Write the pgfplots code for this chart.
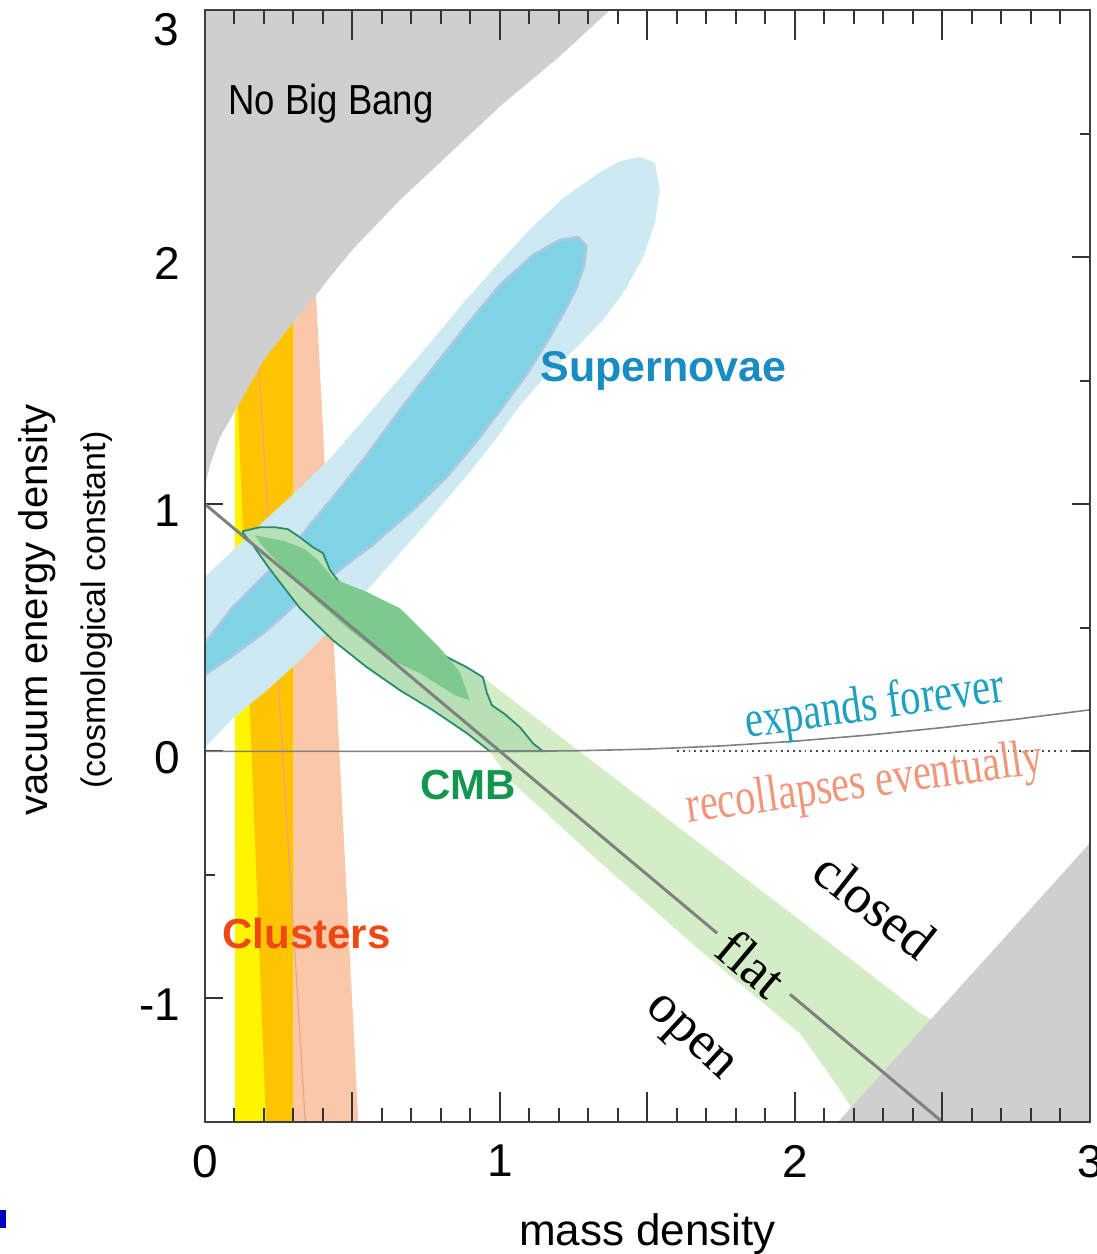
\documentclass[border=0pt]{standalone}
\usepackage{pgfplots}
\pgfplotsset{compat=1.18}
\usepackage{fontspec}
\setmainfont{Liberation Sans}
\newfontfamily\tms{Liberation Serif}
\definecolor{nbb}{RGB}{207,207,207}
\definecolor{snout}{RGB}{205,234,243}
\definecolor{snin}{RGB}{128,210,229}
\definecolor{snedge}{RGB}{168,200,228}
\definecolor{cyel}{RGB}{255,245,0}
\definecolor{corg}{RGB}{255,196,0}
\definecolor{csal}{RGB}{250,200,168}
\definecolor{csalline}{RGB}{238,165,135}
\definecolor{gband}{RGB}{213,237,198}
\definecolor{gmid}{RGB}{183,224,183}
\definecolor{gin}{RGB}{126,201,141}
\definecolor{gedge}{RGB}{40,140,110}
\definecolor{tsn}{RGB}{25,140,195}
\definecolor{tcmb}{RGB}{20,150,80}
\definecolor{tcl}{RGB}{240,72,20}
\definecolor{texp}{RGB}{30,160,190}
\definecolor{trec}{RGB}{240,150,122}
\definecolor{lgray}{RGB}{128,128,128}
\begin{document}
\begin{tikzpicture}
\begin{axis}[name=ax, scale only axis, width=442.5pt, height=556pt,
  xmin=0, xmax=3, ymin=-1.5, ymax=3,
  axis line style={black!75, line width=1.1pt},
  tick align=inside,
  xtick=\empty,
  ytick={-1,0,1,2,3}, yticklabels={-1,0,1,2,},
  minor ytick={-0.5,0.5,1.5,2.5},
  major tick length=9pt, minor tick length=5pt,
  tick style={black!80, line width=1pt},
  yticklabel style={font=\fontsize{23}{25}\selectfont, xshift=-9pt, yshift=-3pt},
  clip=true]
% clusters
\addplot[fill=cyel, draw=none] coordinates {(0.10,-1.6) (0.24,-1.6) (0.24,2.1) (0.10,2.1)} -- cycle;
\addplot[fill=corg, draw=none] coordinates {(0.21,-1.6) (0.30,-1.6) (0.30,2.1) (0.105,2.1) (0.112,1.4)} -- cycle;
\addplot[fill=csal, draw=none] coordinates {(0.30,-1.6) (0.524,-1.6) (0.37,2.0) (0.30,2.0)} -- cycle;
\addplot[csalline, line width=0.6pt] coordinates {(0.18,1.6) (0.34,-1.5)};
% no big bang
\addplot[fill=nbb, draw=none] coordinates {(0,3.05) (0,1.05) (0.007,1.11) (0.02,1.17) (0.05,1.27) (0.108,1.39) (0.197,1.58) (0.288,1.72) (0.366,1.83) (0.424,1.92) (0.50,2.03) (0.66,2.23) (0.875,2.47) (1.0,2.61) (1.2,2.81) (1.373,3.0) (1.42,3.05)} -- cycle;
% supernovae outer
\addplot[fill=snout, draw=none] coordinates {
(-0.051,0.652) (0.007,0.713) (0.095,0.814) (0.210,0.943) (0.322,1.065) (0.434,1.198) (0.536,1.340) (0.651,1.498) (0.763,1.652) (0.875,1.814) (0.990,1.968) (1.102,2.113) (1.214,2.239) (1.329,2.336) (1.407,2.389) (1.475,2.405) (1.525,2.381)
(1.542,2.271) (1.525,2.138) (1.485,2.0) (1.424,1.866) (1.349,1.745) (1.261,1.636) (1.163,1.530) (1.068,1.401) (0.983,1.259) (0.888,1.117) (0.773,0.955) (0.661,0.802) (0.549,0.652) (0.434,0.502) (0.322,0.368) (0.210,0.247) (0.095,0.134) (0.007,0.024) (-0.051,-0.024)} -- cycle;
% supernovae inner
\addplot[fill=snin, draw=snedge, line width=1.4pt] coordinates {
(-0.034,0.401) (0.007,0.449) (0.095,0.583) (0.210,0.721) (0.322,0.866) (0.434,1.028) (0.549,1.198) (0.661,1.381) (0.773,1.551) (0.888,1.725) (1.0,1.887) (1.112,2.008) (1.203,2.069) (1.264,2.081) (1.292,2.045)
(1.285,1.968) (1.258,1.874) (1.215,1.773) (1.162,1.664) (1.095,1.534) (1.013,1.401) (0.918,1.251) (0.815,1.105) (0.692,0.964) (0.566,0.834) (0.445,0.725) (0.322,0.611) (0.210,0.490) (0.095,0.389) (0.007,0.316) (-0.034,0.287)} -- cycle;
% CMB band
\addplot[fill=gband, draw=none] coordinates {
(0.13,0.89) (0.942,0.300) (1.4,-0.119) (1.8,-0.485) (2.2,-0.851) (2.42,-1.055) (2.55,-1.15) (2.32,-1.47) (2.19,-1.44) (2.153,-1.372) (2.10,-1.28) (2.017,-1.142) (1.678,-0.806) (1.339,-0.449) (1.034,-0.117) (0.966,0.0) (0.831,0.146) (0.13,0.87)} -- cycle;
% CMB contour
\addplot[fill=gmid, draw=gedge, line width=0.9pt] coordinates {
(0.129,0.891) (0.186,0.907) (0.237,0.907) (0.281,0.899) (0.322,0.866) (0.366,0.826) (0.400,0.802) (0.424,0.733) (0.458,0.680) (0.549,0.640) (0.610,0.599) (0.644,0.571) (0.685,0.502) (0.753,0.437) (0.820,0.381) (0.888,0.340) (0.942,0.300) (0.956,0.235) (0.973,0.186) (1.017,0.150) (1.068,0.097) (1.112,0.032) (1.146,0.0)
(0.966,0.0) (0.888,0.073) (0.773,0.166) (0.661,0.247) (0.549,0.340) (0.434,0.449) (0.322,0.579) (0.254,0.684) (0.210,0.753) (0.163,0.834) (0.129,0.883)} -- cycle;
\addplot[fill=gin, draw=none] coordinates {
(0.169,0.874) (0.271,0.850) (0.339,0.818) (0.383,0.773) (0.434,0.700) (0.549,0.644) (0.661,0.579) (0.729,0.498) (0.797,0.417) (0.864,0.320) (0.898,0.206) (0.847,0.227) (0.729,0.316) (0.610,0.381) (0.492,0.490) (0.383,0.603) (0.271,0.733) (0.193,0.834)} -- cycle;
% lower right gray
\addplot[fill=nbb, draw=none] coordinates {(2.108,-1.55) (3.05,-0.305) (3.05,-1.55)} -- cycle;
% lines
\addplot[lgray, line width=0.8pt] coordinates {(0,0) (1,0) (1.25,0.002) (1.5,0.009) (1.75,0.022) (2,0.041) (2.25,0.066) (2.5,0.096) (2.75,0.13) (3,0.168)};
\addplot[black!70, dotted, line width=0.9pt] coordinates {(1.6,0) (3,0)};
\addplot[lgray, line width=1.5pt] coordinates {(0,1) (1.736,-0.736)};
\addplot[lgray, line width=1.5pt] coordinates {(1.983,-0.983) (2.5,-1.5)};
% labels
\node[anchor=west, inner sep=0pt, xscale=0.87, font=\fontsize{21}{23}\selectfont] at (axis cs:0.078,2.62) {No Big Bang};
\node[anchor=west, inner sep=0pt, font=\fontsize{21.5}{23}\selectfont\bfseries, text=tsn] at (axis cs:1.136,1.54) {Supernovae};
\node[anchor=west, inner sep=0pt, font=\fontsize{21}{23}\selectfont\bfseries, text=tcmb] at (axis cs:0.729,-0.138) {CMB};
\node[anchor=west, inner sep=0pt, font=\fontsize{21}{23}\selectfont\bfseries, text=tcl] at (axis cs:0.058,-0.737) {Clusters};
\node[rotate=8, xscale=0.78, font=\tms\fontsize{26}{28}\selectfont, text=texp] at (axis cs:2.271,0.18) {expands forever};
\node[rotate=8, xscale=0.78, font=\tms\fontsize{26}{28}\selectfont, text=trec] at (axis cs:2.237,-0.138) {recollapses eventually};
\node[rotate=-38, font=\tms\fontsize{27}{29}\selectfont] at (axis cs:2.271,-0.623) {closed};
\node[rotate=-40, font=\tms\fontsize{27}{29}\selectfont] at (axis cs:1.854,-0.858) {flat};
\node[rotate=-43, font=\tms\fontsize{27}{29}\selectfont] at (axis cs:1.637,-1.17) {open};
\end{axis}
\begin{axis}[scale only axis, width=442.5pt, height=556pt,
  xmin=0, xmax=3, ymin=-1.5, ymax=3,
  axis line style={black!75, line width=1.1pt},
  tick align=inside,
  ytick=\empty,
  xtick={0,0.5,1,1.5,2,2.5,3}, xticklabels={0,,1,,2,,3},
  minor xtick={0.1,0.2,0.3,0.4,0.6,0.7,0.8,0.9,1.1,1.2,1.3,1.4,1.6,1.7,1.8,1.9,2.1,2.2,2.3,2.4,2.6,2.7,2.8,2.9},
  major tick length=15pt, minor tick length=7pt,
  tick style={black!80, line width=1pt},
  xticklabel style={font=\fontsize{23}{25}\selectfont, yshift=-8pt}]
\addplot[draw=none] coordinates {(0,0)};
\end{axis}
\node[anchor=east, inner sep=0pt, font=\fontsize{23}{25}\selectfont] at ([xshift=-13pt, yshift=-10pt]ax.north west) {3};
\node[font=\fontsize{22}{24}\selectfont] at ([yshift=-56pt]ax.south) {mass density};
\node[rotate=90, font=\fontsize{20}{22}\selectfont] at ([xshift=-84pt,yshift=-22pt]ax.west) {vacuum energy density};
\node[rotate=90, font=\fontsize{17}{19}\selectfont] at ([xshift=-54pt,yshift=-22pt]ax.west) {(cosmological constant)};
\fill[blue!75!black] ([shift={(-102.5pt,-53pt)}]ax.south west) rectangle ([shift={(-99.5pt,-44pt)}]ax.south west);
\pgfresetboundingbox
\path ([shift={(-102.5pt,-66pt)}]ax.south west) rectangle ([shift={(3.5pt,5pt)}]ax.north east);
\end{tikzpicture}
\end{document}
